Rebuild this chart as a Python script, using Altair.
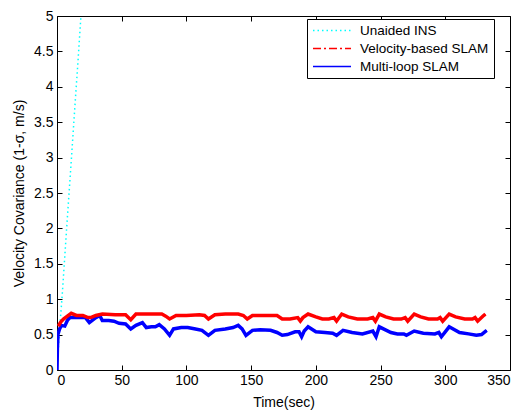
import altair as alt
import pandas as pd

series_names = ["Unaided INS", "Velocity-based SLAM", "Multi-loop SLAM"]
series_colors = ["#00ffff", "#ff0000", "#0000ff"]
series_dashes = [[1.5, 3], [8, 3, 2, 3], [1, 0]]

# Unaided INS
ins_t = [0, 1, 2, 4, 6, 8, 10, 12, 14, 16, 18.5]
ins_v = [0, 0.3, 0.57, 1.05, 1.6, 2.15, 2.68, 3.22, 3.77, 4.3, 5.0]

# Velocity-based SLAM
vel_t = [1, 3, 5, 8, 11, 15, 20, 24, 26, 30, 35, 45, 53, 57, 61, 70, 81, 84, 87, 92,
         100, 110, 114, 117, 122, 130, 140, 144, 147, 151, 160, 170, 174, 180, 186, 188,
         190, 194, 200, 205, 210, 214, 216, 220, 225, 232, 240, 244, 246, 249, 254, 260,
         266, 269, 271, 276, 281, 287, 294, 296, 298, 303, 308, 315, 321, 323, 325, 329, 331]
vel_v = [0.62, 0.68, 0.72, 0.76, 0.80, 0.77, 0.77, 0.74, 0.74, 0.77, 0.79, 0.78, 0.78, 0.71,
         0.79, 0.79, 0.79, 0.76, 0.72, 0.77, 0.77, 0.78, 0.77, 0.72, 0.78, 0.79, 0.79, 0.77,
         0.72, 0.77, 0.77, 0.77, 0.72, 0.72, 0.74, 0.69, 0.74, 0.79, 0.75, 0.72, 0.72, 0.74,
         0.69, 0.79, 0.75, 0.72, 0.72, 0.74, 0.69, 0.79, 0.75, 0.72, 0.72, 0.74, 0.69, 0.79,
         0.75, 0.72, 0.72, 0.74, 0.69, 0.79, 0.75, 0.72, 0.72, 0.74, 0.69, 0.76, 0.79]

# Multi-loop SLAM
mlp_t = [0, 0.3, 0.8, 2, 3.3, 6, 8, 10, 15, 22, 25, 30, 33, 35, 40, 44, 48, 53, 57, 61,
         66, 69, 73, 76, 79, 83, 87, 90, 96, 101, 107, 112, 117, 122, 130, 136, 140, 143,
         146, 151, 157, 165, 170, 174, 178, 184, 187, 189, 191, 194, 200, 207, 213, 216,
         221, 228, 236, 244, 246.5, 249, 258, 263, 268, 270, 276, 283, 292, 295, 297, 303,
         311, 318, 324, 328, 332]
mlp_v = [0, 0.3, 0.51, 0.58, 0.63, 0.62, 0.70, 0.74, 0.74, 0.74, 0.67, 0.74, 0.77, 0.70,
         0.70, 0.69, 0.66, 0.65, 0.58, 0.63, 0.67, 0.60, 0.61, 0.61, 0.64, 0.58, 0.49, 0.58,
         0.60, 0.60, 0.58, 0.56, 0.49, 0.56, 0.58, 0.60, 0.63, 0.58, 0.49, 0.56, 0.57, 0.56,
         0.53, 0.49, 0.50, 0.54, 0.54, 0.47, 0.55, 0.61, 0.54, 0.53, 0.52, 0.49, 0.56, 0.53,
         0.51, 0.55, 0.47, 0.61, 0.53, 0.51, 0.51, 0.49, 0.55, 0.52, 0.51, 0.53, 0.47, 0.61,
         0.53, 0.51, 0.49, 0.50, 0.56]

x_ticks = [0, 50, 100, 150, 200, 250, 300, 350]
y_ticks = [0, 0.5, 1, 1.5, 2, 2.5, 3, 3.5, 4, 4.5, 5]

rows = []
for name, ts, vs in [(series_names[0], ins_t, ins_v),
                     (series_names[2], mlp_t, mlp_v),
                     (series_names[1], vel_t, vel_v)]:
    for i, (t, v) in enumerate(zip(ts, vs)):
        rows.append({"t": t, "v": v, "series": name, "i": i})
df = pd.DataFrame(rows)
df_red = df[df["series"] == series_names[1]]
df_blue = df[df["series"] == series_names[2]]

FONT = "Liberation Sans"
xs = alt.Scale(domain=[0, 350], nice=False, zero=False)
ys = alt.Scale(domain=[0, 5], nice=False)

leg = alt.Legend(
    orient="none", legendX=250, legendY=3, title=None,
    strokeColor="#000", fillColor="#fff", padding=5, rowPadding=4,
    symbolType="stroke", symbolSize=1444, symbolStrokeWidth=1.5, clipHeight=13,
    labelFont=FONT, labelFontSize=13.5, labelColor="#000", labelOffset=8,
    cornerRadius=0,
)

main = alt.Chart(df).mark_line(clip=True, strokeWidth=1.5).encode(
    x=alt.X("t:Q", scale=xs, axis=alt.Axis(
        values=x_ticks, title="Time(sec)", orient="bottom", offset=-5, tickSize=5,
        labelPadding=3, domain=False, grid=False, format="d", titlePadding=8)),
    y=alt.Y("v:Q", scale=ys, axis=alt.Axis(
        values=y_ticks, title="Velocity Covariance (1-σ, m/s)", orient="left", offset=-5,
        tickSize=5, labelPadding=4, domain=False, grid=False, format="~g", titlePadding=7)),
    color=alt.Color("series:N", scale=alt.Scale(domain=series_names, range=series_colors),
                    legend=leg, title=None),
    strokeDash=alt.StrokeDash("series:N", scale=alt.Scale(domain=series_names, range=series_dashes),
                              legend=leg, title=None),
    order="i:Q",
)

blue_thick = alt.Chart(df_blue).mark_line(clip=True, color="#0000ff", strokeWidth=3.5).encode(
    x=alt.X("t:Q", scale=xs, axis=None),
    y=alt.Y("v:Q", scale=ys, axis=None),
    order="i:Q",
)

red_thick = alt.Chart(df_red).mark_line(clip=True, color="#ff0000", strokeWidth=3.5).encode(
    x=alt.X("t:Q", scale=xs, axis=alt.Axis(
        values=x_ticks, title=None, orient="top", offset=-5, tickSize=5, labels=False,
        domain=False, grid=False)),
    y=alt.Y("v:Q", scale=ys, axis=alt.Axis(
        values=y_ticks, title=None, orient="right", offset=-5, tickSize=5, labels=False,
        domain=False, grid=False)),
    order="i:Q",
)

chart = alt.layer(main, blue_thick, red_thick).resolve_axis(
    x="independent", y="independent"
).properties(
    width=453, height=354,
    autosize=alt.AutoSizeParams(type="none"),
    padding={"left": 49, "top": 8, "right": 5, "bottom": 40},
    background="#ffffff",
).configure_view(
    stroke="#000", strokeWidth=1
).configure_axis(
    labelFont=FONT, labelFontSize=14, labelColor="#000",
    titleFont=FONT, titleFontSize=14, titleColor="#000", titleFontWeight="normal",
    tickColor="#000", tickWidth=1,
)

chart.save("out.html", embed_options={"renderer": "svg", "actions": False})
